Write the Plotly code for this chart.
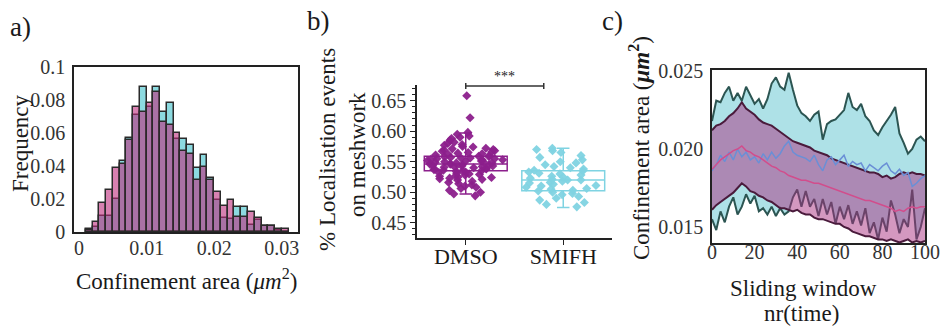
import plotly.graph_objects as go

W, H = 943, 326
FONT = "Liberation Serif, DejaVu Serif, Noto Serif, serif"
TXT = "#1a1a1a"

# ---------------- Panel a data: histogram (bin width 0.001 starting at 0.001)
bin_start = 0.001
bin_width = 0.001
freq_smifh = [0.002, 0.003, 0.010, 0.010, 0.020, 0.043, 0.057, 0.071, 0.088, 0.076,
              0.088, 0.0725, 0.078, 0.0565, 0.0566, 0.0527, 0.0386, 0.0467, 0.033, 0.0194,
              0.0083, 0.008, 0.015, 0.015, 0.0042, 0.007, 0.0038, 0.0036, 0.0015, 0.0]
freq_dmso = [0.001, 0.006, 0.0174, 0.0255, 0.039, 0.041, 0.0555, 0.0755, 0.073, 0.078,
             0.085, 0.0665, 0.065, 0.0598, 0.049, 0.047, 0.0315, 0.0392, 0.0315, 0.024,
             0.016, 0.0194, 0.0089, 0.0089, 0.012, 0.0083, 0.0038, 0.0036, 0.0018, 0.0018]
hist_xticks = [0, 0.01, 0.02, 0.03]
hist_xticklabels = ["0", "0.01", "0.02", "0.03"]
hist_yticks = [0, 0.02, 0.04, 0.06, 0.08, 0.1]
hist_yticklabels = ["0", "0.02", "0.04", "0.06", "0.08", "0.1"]

# ---------------- Panel b data
groups = ["DMSO", "SMIFH"]
dmso_points = [0.658, 0.622, 0.598, 0.595, 0.592, 0.590, 0.588, 0.585, 0.582, 0.580,
               0.578, 0.577, 0.575, 0.574, 0.572, 0.571, 0.570, 0.569, 0.568, 0.567,
               0.566, 0.565, 0.564, 0.563, 0.562, 0.561, 0.560, 0.559, 0.558, 0.558,
               0.557, 0.556, 0.556, 0.555, 0.555, 0.554, 0.553, 0.553, 0.552, 0.551,
               0.551, 0.550, 0.550, 0.549, 0.548, 0.548, 0.547, 0.546, 0.546, 0.545,
               0.545, 0.544, 0.543, 0.543, 0.542, 0.541, 0.541, 0.540, 0.539, 0.538,
               0.538, 0.537, 0.536, 0.535, 0.535, 0.534, 0.533, 0.532, 0.531, 0.530,
               0.529, 0.528, 0.527, 0.526, 0.525, 0.524, 0.523, 0.522, 0.521, 0.520,
               0.518, 0.516, 0.514, 0.512, 0.510, 0.508, 0.506, 0.503, 0.500, 0.497, 0.494]
smifh_points = [0.572, 0.570, 0.568, 0.565, 0.560, 0.557, 0.553, 0.550, 0.548, 0.545,
                0.542, 0.540, 0.538, 0.536, 0.535, 0.533, 0.531, 0.530, 0.528, 0.526,
                0.525, 0.523, 0.521, 0.520, 0.520, 0.518, 0.516, 0.515, 0.513, 0.511,
                0.510, 0.508, 0.506, 0.505, 0.503, 0.502, 0.500, 0.498, 0.496, 0.493,
                0.490, 0.487, 0.483, 0.480, 0.476]
# box stats: q1, median, q3, lower whisker, upper whisker
dmso_box = [0.535, 0.546, 0.559, 0.497, 0.597]
smifh_box = [0.5025, 0.520, 0.535, 0.475, 0.572]
box_yticks = [0.45, 0.50, 0.55, 0.60, 0.65]
box_yticklabels = ["0.45", "0.50", "0.55", "0.60", "0.65"]
sig_label = "***"

# ---------------- Panel c data (sliding window 0..100, every 2)
window = list(range(0, 101, 2))
smifh_upper = [0.0218, 0.0231, 0.0230, 0.0236, 0.0240, 0.0231, 0.0236, 0.0231, 0.0240, 0.0234,
               0.0229, 0.0232, 0.0226, 0.0232, 0.0242, 0.0246, 0.0240, 0.0238, 0.0249, 0.0238,
               0.0228, 0.0223, 0.0221, 0.0218, 0.0222, 0.0224, 0.0206, 0.0216, 0.0218, 0.0219,
               0.0222, 0.0225, 0.0236, 0.0227, 0.0225, 0.0229, 0.0221, 0.0218, 0.0212, 0.0209,
               0.0214, 0.0218, 0.0222, 0.0227, 0.0210, 0.0204, 0.0197, 0.0200, 0.0206, 0.0208, 0.0205]
smifh_lower = [0.0155, 0.0148, 0.0160, 0.0153, 0.0163, 0.0169, 0.0158, 0.0163, 0.0171, 0.0165,
               0.0170, 0.0160, 0.0162, 0.0158, 0.0163, 0.0157, 0.0162, 0.0158, 0.0160, 0.0169,
               0.0174, 0.0163, 0.0173, 0.0163, 0.0168, 0.0157, 0.0168, 0.0158, 0.0166, 0.0152,
               0.0163, 0.0155, 0.0164, 0.0152, 0.0160, 0.0151, 0.0162, 0.0146, 0.0153, 0.0142,
               0.0156, 0.0147, 0.0167, 0.0158, 0.0146, 0.0155, 0.0150, 0.0174, 0.0142, 0.0150, 0.0162]
smifh_mean = [0.0186, 0.0190, 0.0196, 0.0192, 0.0198, 0.0193, 0.0200, 0.0195, 0.0198, 0.0193,
              0.0195, 0.0191, 0.0197, 0.0193, 0.0198, 0.0194, 0.0197, 0.0202, 0.0205, 0.0198,
              0.0196, 0.0195, 0.0194, 0.0192, 0.0196, 0.0190, 0.0186, 0.0193, 0.0195, 0.0190,
              0.0193, 0.0196, 0.0189, 0.0192, 0.0190, 0.0191, 0.0186, 0.0190, 0.0188, 0.0186,
              0.0189, 0.0191, 0.0186, 0.0184, 0.0187, 0.0183, 0.0185, 0.0176, 0.0178, 0.0181, 0.0183]
dmso_upper = [0.0212, 0.0215, 0.0216, 0.0218, 0.0221, 0.0223, 0.0226, 0.0230, 0.0226, 0.0224,
              0.0222, 0.0219, 0.0217, 0.0216, 0.0215, 0.0213, 0.0211, 0.0209, 0.0207, 0.0205,
              0.0204, 0.0203, 0.0202, 0.0201, 0.0199, 0.0198, 0.0197, 0.0196, 0.0194, 0.0193,
              0.0192, 0.0191, 0.0190, 0.0189, 0.0188, 0.0187, 0.0186, 0.0185, 0.0185, 0.0184,
              0.0182, 0.0183, 0.0181, 0.0182, 0.0184, 0.0185, 0.0184, 0.0185, 0.0184, 0.0184, 0.0183]
dmso_lower = [0.0161, 0.0164, 0.0166, 0.0168, 0.0170, 0.0172, 0.0175, 0.0178, 0.0176, 0.0173,
              0.0172, 0.0170, 0.0169, 0.0167, 0.0166, 0.0164, 0.0162, 0.0162, 0.0161, 0.0160,
              0.0161, 0.0159, 0.0158, 0.0158, 0.0156, 0.0155, 0.0155, 0.0154, 0.0153, 0.0152,
              0.0152, 0.0150, 0.0149, 0.0147, 0.0146, 0.0145, 0.0144, 0.0144, 0.0143, 0.0142,
              0.0142, 0.0141, 0.0142, 0.0141, 0.0140, 0.0141, 0.0142, 0.0140, 0.0141, 0.0140, 0.0141]
dmso_mean = [0.0187, 0.0190, 0.0193, 0.0195, 0.0197, 0.0199, 0.0200, 0.0202, 0.0199, 0.0198,
             0.0196, 0.0195, 0.0193, 0.0191, 0.0189, 0.0188, 0.0186, 0.0185, 0.0183, 0.0182,
             0.0181, 0.0180, 0.0180, 0.0179, 0.0178, 0.0178, 0.0177, 0.0176, 0.0175, 0.0174,
             0.0173, 0.0172, 0.0171, 0.0170, 0.0169, 0.0168, 0.0167, 0.0167, 0.0166, 0.0165,
             0.0164, 0.0163, 0.0162, 0.0160, 0.0161, 0.0160, 0.0162, 0.0163, 0.0162, 0.0163, 0.0163]
c_xticks = [0, 20, 40, 60, 80, 100]
c_yticks = [0.015, 0.020, 0.025]
c_yticklabels = ["0.015", "0.020", "0.025"]

# ---------------- colours
CYAN_BAR = "rgba(70,195,205,0.62)"
PINK_BAR = "rgba(190,45,125,0.6)"
EDGE = "#2a2a2a"
DMSO_C = "#8c1f8c"
SMIFH_C = "#7fd3e2"
CYAN_FILL = "rgba(120,205,215,0.6)"
PINK_FILL = "rgba(170,50,130,0.5)"
CYAN_LINE = "#2c5552"
PINK_LINE = "#4a1b3c"
CYAN_MEAN = "#6a8fd6"
PINK_MEAN = "#d24d8c"


def fx(px):
    return px / W


def fy(py):
    return 1 - py / H


fig = go.Figure()

# ---- panel a
centers = [bin_start + bin_width * (i + 0.5) for i in range(len(freq_dmso))]
fig.add_trace(go.Bar(x=centers, y=freq_smifh, width=bin_width, marker=dict(color=CYAN_BAR, line=dict(color=EDGE, width=1.5)),
                     xaxis="x", yaxis="y"))
fig.add_trace(go.Bar(x=centers, y=freq_dmso, width=bin_width, marker=dict(color=PINK_BAR, line=dict(color=EDGE, width=1.5)),
                     xaxis="x", yaxis="y"))

# ---- panel b
for gi, (name, pts, stats, col) in enumerate([(groups[0], dmso_points, dmso_box, DMSO_C),
                                               (groups[1], smifh_points, smifh_box, SMIFH_C)]):
    fig.add_trace(go.Box(x=[name], q1=[stats[0]], median=[stats[1]], q3=[stats[2]],
                         lowerfence=[stats[3]], upperfence=[stats[4]],
                         fillcolor="rgba(255,255,255,0)", line=dict(color=col, width=1.5),
                         width=0.85, whiskerwidth=0.15, boxpoints=False,
                         xaxis="x2", yaxis="y2"))
    fig.add_trace(go.Box(x=[name] * len(pts), y=pts, boxpoints="all", jitter=0.95, pointpos=0,
                         fillcolor="rgba(0,0,0,0)", line=dict(color="rgba(0,0,0,0)", width=0),
                         marker=dict(color=col, symbol="diamond", size=7, opacity=0.95),
                         width=0.85, xaxis="x2", yaxis="y2"))

# ---- panel c
fig.add_trace(go.Scatter(x=window, y=smifh_lower, mode="lines", line=dict(color=CYAN_LINE, width=2),
                         xaxis="x3", yaxis="y3"))
fig.add_trace(go.Scatter(x=window, y=smifh_upper, mode="lines", line=dict(color=CYAN_LINE, width=2),
                         fill="tonexty", fillcolor=CYAN_FILL, xaxis="x3", yaxis="y3"))
fig.add_trace(go.Scatter(x=window, y=dmso_lower, mode="lines", line=dict(color=PINK_LINE, width=2),
                         xaxis="x3", yaxis="y3"))
fig.add_trace(go.Scatter(x=window, y=dmso_upper, mode="lines", line=dict(color=PINK_LINE, width=2),
                         fill="tonexty", fillcolor=PINK_FILL, xaxis="x3", yaxis="y3"))
fig.add_trace(go.Scatter(x=window, y=smifh_mean, mode="lines", line=dict(color=CYAN_MEAN, width=1.5),
                         xaxis="x3", yaxis="y3"))
fig.add_trace(go.Scatter(x=window, y=dmso_mean, mode="lines", line=dict(color=PINK_MEAN, width=1.5),
                         xaxis="x3", yaxis="y3"))

tickfont = dict(family=FONT, size=20, color="#333")
frame = dict(showline=True, linecolor="#222", linewidth=1.5, mirror=True, showgrid=False,
             zeroline=False, automargin=False, ticks="", ticklen=0)

b_dom_y = [fy(238), fy(85)]
b_range = [0.4249, 0.6757]

fig.update_layout(
    template="none",
    width=W, height=H, margin=dict(l=0, r=0, t=0, b=0, pad=0), autosize=False,
    paper_bgcolor="white", plot_bgcolor="white", showlegend=False,
    font=dict(family=FONT, color=TXT),
    barmode="overlay", bargap=0,
    xaxis=dict(domain=[fx(74), fx(298)], range=[-0.00075, 0.0324], tickvals=hist_xticks,
               ticktext=hist_xticklabels, ticklabelstandoff=-3, tickfont=tickfont, anchor="y", **frame),
    yaxis=dict(domain=[fy(232), fy(67)], range=[0, 0.1], tickvals=hist_yticks,
               ticktext=hist_yticklabels, ticklabelstandoff=3, tickfont=tickfont, anchor="x", **frame),
    xaxis2=dict(domain=[fx(417), fx(612)], range=[-0.5, 1.5], type="category", anchor="y2",
                showline=True, linecolor="#222", linewidth=1.5, showgrid=False, zeroline=False, automargin=False,
                ticks="outside", ticklen=5, tickcolor="#222", ticklabelstandoff=-7,
                tickfont=dict(family=FONT, size=22, color=TXT)),
    yaxis2=dict(domain=b_dom_y, range=b_range, anchor="x2", tickvals=box_yticks,
                ticktext=box_yticklabels, automargin=False,
                showline=True, linecolor="#222", linewidth=1.5, showgrid=False, zeroline=False,
                ticks="outside", ticklen=5, tickcolor="#222", tickfont=tickfont,
                minor=dict(dtick=0.01, ticks="outside", ticklen=3, tickcolor="#222", showgrid=False)),
    xaxis3=dict(domain=[fx(712), fx(925)], range=[0, 100], tickvals=c_xticks,
                ticklabelstandoff=-10, tickfont=tickfont, anchor="y3", **frame),
    yaxis3=dict(domain=[fy(243), fy(70)], range=[0.01397, 0.02507], tickvals=c_yticks,
                ticktext=c_yticklabels, ticklabelstandoff=3, tickfont=tickfont, anchor="x3", **frame),
)


def by(v):
    return b_dom_y[0] + (v - b_range[0]) / (b_range[1] - b_range[0]) * (b_dom_y[1] - b_dom_y[0])


# significance bracket (DMSO to ~0.8 of the way to SMIFH)
br_y, br_tick = 0.674, 0.005
br_x0, br_x1 = 0, 0.8
line_style = dict(color="#333", width=1.5)
fig.add_shape(type="line", xref="x2", yref="paper", x0=br_x0, x1=br_x1, y0=by(br_y), y1=by(br_y), line=line_style)
for bx in (br_x0, br_x1):
    fig.add_shape(type="line", xref="x2", yref="paper", x0=bx, x1=bx, y0=by(br_y - br_tick),
                  y1=by(br_y + br_tick), line=line_style)
fig.add_annotation(text=sig_label, xref="x2", yref="paper", x=(br_x0 + br_x1) / 2, y=by(br_y),
                   yanchor="bottom", showarrow=False, font=dict(family=FONT, size=14, color=TXT))

annos = [
    ("a)", 20, 27, 0, 27), ("b)", 318, 21, 0, 27), ("c)", 612, 21, 0, 27),
    ("Frequency", 20, 143, -90, 23),
    ("Confinement area (<i>μm</i><sup>2</sup>)", 186, 279, 0, 23),
    ("% Localisation events", 327, 150, -90, 23),
    ("on meshwork", 358, 155, -90, 23),
    ("Confinement area (<b><i>μm</i><sup>2</sup></b>)", 639, 148, -90, 23),
    ("Sliding window", 803, 288, 0, 23),
    ("nr(time)", 801, 313, 0, 23),
]
for text, x, y, ang, sz in annos:
    fig.add_annotation(text=text, x=fx(x), y=fy(y), xref="paper", yref="paper", showarrow=False,
                       textangle=ang, xanchor="center", yanchor="middle",
                       font=dict(family=FONT, size=sz, color=TXT))

fig.write_html("out.html")
